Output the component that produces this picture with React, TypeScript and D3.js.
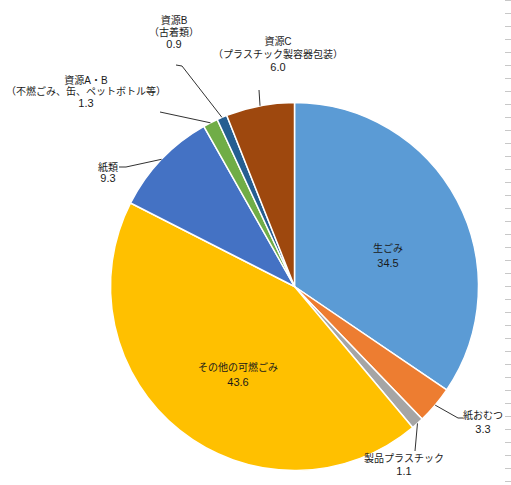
import { useEffect } from 'react'
import * as d3 from 'd3'

const categories = [
  '生ごみ',
  '紙おむつ',
  '製品プラスチック',
  'その他の可燃ごみ',
  '紙類',
  '資源A・B',
  '資源B',
  '資源C',
]
const subtitles = ['', '', '', '', '', '（不燃ごみ、缶、ペットボトル等）', '（古着類）', '（プラスチック製容器包装）']
const values = [34.5, 3.3, 1.1, 43.6, 9.3, 1.3, 0.9, 6.0]
const colors = ['#5b9bd5', '#ed7d31', '#a5a5a5', '#ffc000', '#4472c4', '#70ad47', '#255e91', '#9e480e']

type Slice = { name: string; sub: string; value: number; color: string }

const slices: Slice[] = categories.map((name, i) => ({
  name,
  sub: subtitles[i],
  value: values[i],
  color: colors[i],
}))

// label placement (text centre x, first line y, line step), leader elbow points; null = inside label
const labelLayout: {
  x: number
  y: number
  step: number
  leader: [number, number][] | null
}[] = [
  { x: 388, y: 248, step: 15, leader: null },
  { x: 483, y: 415, step: 14, leader: [[458, 418], [463, 418]] },
  { x: 404, y: 458, step: 13, leader: [[415, 451]] },
  { x: 238, y: 367, step: 15, leader: null },
  { x: 108, y: 167, step: 11.5, leader: [[126, 167], [119, 167]] },
  { x: 86, y: 80, step: 11.8, leader: [[160, 112]] },
  { x: 174, y: 20, step: 12, leader: [[182, 66], [176, 65]] },
  { x: 278, y: 41, step: 13, leader: [[259, 90]] },
]

const W = 511
const H = 485
const cx = 294.5
const cy = 286.5
const radius = 184

export default function App() {
  useEffect(() => {
    document.body.style.margin = '0'
  }, [])

  const pie = d3
    .pie<Slice>()
    .value((d) => d.value)
    .sort(null)
  const arcs = pie(slices)
  const arcGen = d3.arc<d3.PieArcDatum<Slice>>().innerRadius(0).outerRadius(radius)

  const ticks = d3.range(0, H, 13)

  return (
    <div style={{ position: 'absolute', left: 0, top: 0 }}>
      <svg width={W} height={H} style={{ display: 'block', background: '#fff' }}>
        {ticks.map((t) => (
          <line key={t} x1={505} x2={511} y1={t + 0.5} y2={t + 0.5} stroke="#c8c8c8" strokeWidth={1} />
        ))}
        <g transform={`translate(${cx},${cy})`}>
          {arcs.map((a) => (
            <path key={a.data.name} d={arcGen(a) || ''} fill={a.data.color} stroke="#fff" strokeWidth={1.5} strokeLinejoin="round" />
          ))}
        </g>
        {arcs.map((a, i) => {
          const lay = labelLayout[i]
          if (!lay.leader) return null
          const mid = (a.startAngle + a.endAngle) / 2
          const start: [number, number] = [cx + radius * Math.sin(mid), cy - radius * Math.cos(mid)]
          const pts = [start, ...lay.leader]
          return (
            <path
              key={'l' + i}
              d={d3.line()(pts) || ''}
              fill="none"
              stroke="#1a1a1a"
              strokeWidth={0.9}
            />
          )
        })}
        {arcs.map((a, i) => {
          const lay = labelLayout[i]
          const lines = [a.data.name]
          if (a.data.sub) lines.push(a.data.sub)
          lines.push(a.data.value.toFixed(1))
          return (
            <g key={'t' + i}>
              {lines.map((ln, j) => (
                <text
                  key={j}
                  x={lay.x}
                  y={lay.y + j * lay.step}
                  dy="0.35em"
                  textAnchor="middle"
                  fontFamily="'Liberation Sans', 'Noto Sans CJK JP', sans-serif"
                  fontSize={j === lines.length - 1 ? 11 : 10}
                  fill="#1a1a1a"
                >
                  {ln}
                </text>
              ))}
            </g>
          )
        })}
      </svg>
    </div>
  )
}
